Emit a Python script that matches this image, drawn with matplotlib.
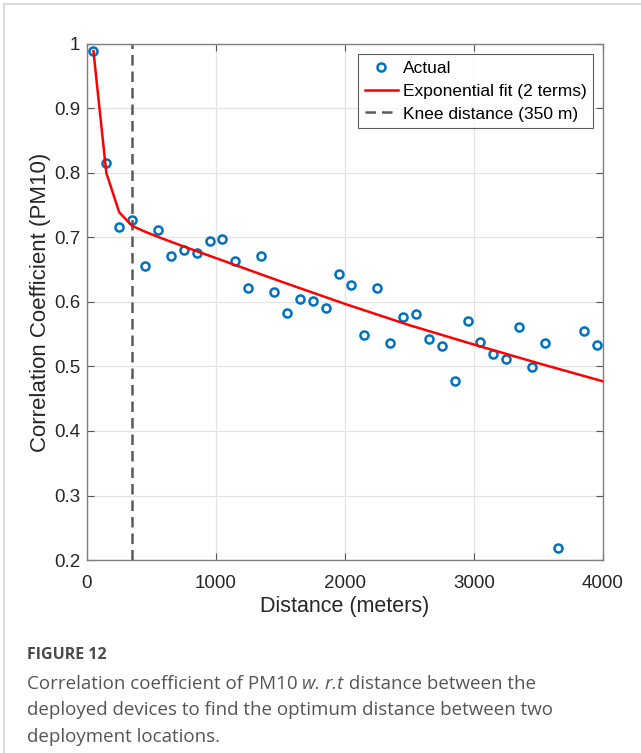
import matplotlib
matplotlib.use("Agg")
import matplotlib.pyplot as plt
from matplotlib.lines import Line2D

# Measured correlation vs distance (3750 m has no point)
distance = [50, 150, 250, 350, 450, 550, 650, 750, 850, 950,
            1050, 1150, 1250, 1350, 1450, 1550, 1650, 1750, 1850, 1950,
            2050, 2150, 2250, 2350, 2450, 2550, 2650, 2750, 2850, 2950,
            3050, 3150, 3250, 3350, 3450, 3550, 3650, 3850, 3950]
corr = [0.989, 0.816, 0.716, 0.727, 0.656, 0.712, 0.671, 0.681, 0.676, 0.694,
        0.698, 0.664, 0.621, 0.672, 0.615, 0.583, 0.604, 0.601, 0.590, 0.643,
        0.626, 0.549, 0.622, 0.536, 0.577, 0.582, 0.542, 0.531, 0.478, 0.570,
        0.538, 0.519, 0.511, 0.562, 0.499, 0.536, 0.219, 0.555, 0.533]

# Two-term exponential fit
fit_x = [50, 150, 250, 350, 450, 550, 750, 1000, 1500, 2000, 2500, 3000, 3500, 4000]
fit_y = [0.989, 0.800, 0.739, 0.718, 0.709, 0.701, 0.686, 0.668, 0.632, 0.597,
         0.564, 0.534, 0.505, 0.477]

knee = 350

plt.rcParams['font.family'] = ['Liberation Sans', 'DejaVu Sans']

fig = plt.figure(figsize=(6.41, 7.53), dpi=100)
ax = fig.add_axes([0.1357, 0.2563, 0.805, 0.6853])

ax.plot(distance, corr, 'o', mfc='none', mec='#0072BD', ms=5.8, mew=1.8,
        label='Actual', zorder=3)
ax.plot(fit_x, fit_y, color='red', lw=1.8, label='Exponential fit (2 terms)', zorder=4)
ax.axvline(knee, color='#5a5a5a', lw=1.8, ls=(0, (4.2, 2.4)),
           label='Knee distance (350 m)', zorder=2)

ax.set_xlim(0, 4000)
ax.set_ylim(0.2, 1.0)
ax.set_xticks([0, 1000, 2000, 3000, 4000])
ax.set_yticks([0.2, 0.3, 0.4, 0.5, 0.6, 0.7, 0.8, 0.9, 1.0])
ax.set_yticklabels(['0.2', '0.3', '0.4', '0.5', '0.6', '0.7', '0.8', '0.9', '1'])
ax.grid(True, color='#e3e3e3', lw=0.9)
ax.set_axisbelow(True)
ax.tick_params(direction='in', top=True, right=True, length=5, width=0.8,
               color='#555555', labelsize=13.5, labelcolor='#262626')
ax.tick_params(axis='x', pad=11)
ax.tick_params(axis='y', pad=5)
for sp in ax.spines.values():
    sp.set_color('#808080')
    sp.set_linewidth(1.0)

ax.set_xlabel('Distance (meters)', fontsize=15.5, color='#262626', labelpad=3)
ax.set_ylabel('Correlation Coefficient (PM10)', fontsize=16, color='#262626', labelpad=2)

leg = ax.legend(loc='upper right', fontsize=12.5, frameon=True, fancybox=False,
                borderaxespad=0.6, handlelength=1.95, handletextpad=0.25,
                labelspacing=0.45, borderpad=0.35)
leg.get_frame().set_edgecolor('#333333')
leg.get_frame().set_linewidth(0.8)

# light page frame
fig.add_artist(Line2D([0.0062, 1.0], [0.9947, 0.9947], color='#d4d4d4', lw=1.2))
fig.add_artist(Line2D([0.0062, 0.0062], [0.0, 0.9947], color='#d4d4d4', lw=1.2))

# caption
cap_font = ['Open Sans', 'DejaVu Sans']
cap_col = '#555555'
cap_size = 13.5
fig.text(27 / 641, 1 - 655 / 753, 'FIGURE 12', family=cap_font, fontsize=11.5,
         fontweight='bold', color='#4a4a4a', va='center')
t1 = fig.text(27 / 641, 1 - 684 / 753, 'Correlation coefficient of PM10 ',
              family=cap_font, fontsize=cap_size, color=cap_col, va='center')
t2 = ax.annotate('w. r.t', xycoords=t1, xy=(1, 0), va='bottom',
                 family=cap_font, fontsize=cap_size, color=cap_col, style='italic')
ax.annotate(' distance between the', xycoords=t2, xy=(1, 0), va='bottom',
            family=cap_font, fontsize=cap_size, color=cap_col)
fig.text(27 / 641, 1 - 710 / 753,
         'deployed devices to find the optimum distance between two',
         family=cap_font, fontsize=cap_size, color=cap_col, va='center')
fig.text(27 / 641, 1 - 737 / 753, 'deployment locations.',
         family=cap_font, fontsize=cap_size, color=cap_col, va='center')

fig.savefig('out.png', dpi=100)
